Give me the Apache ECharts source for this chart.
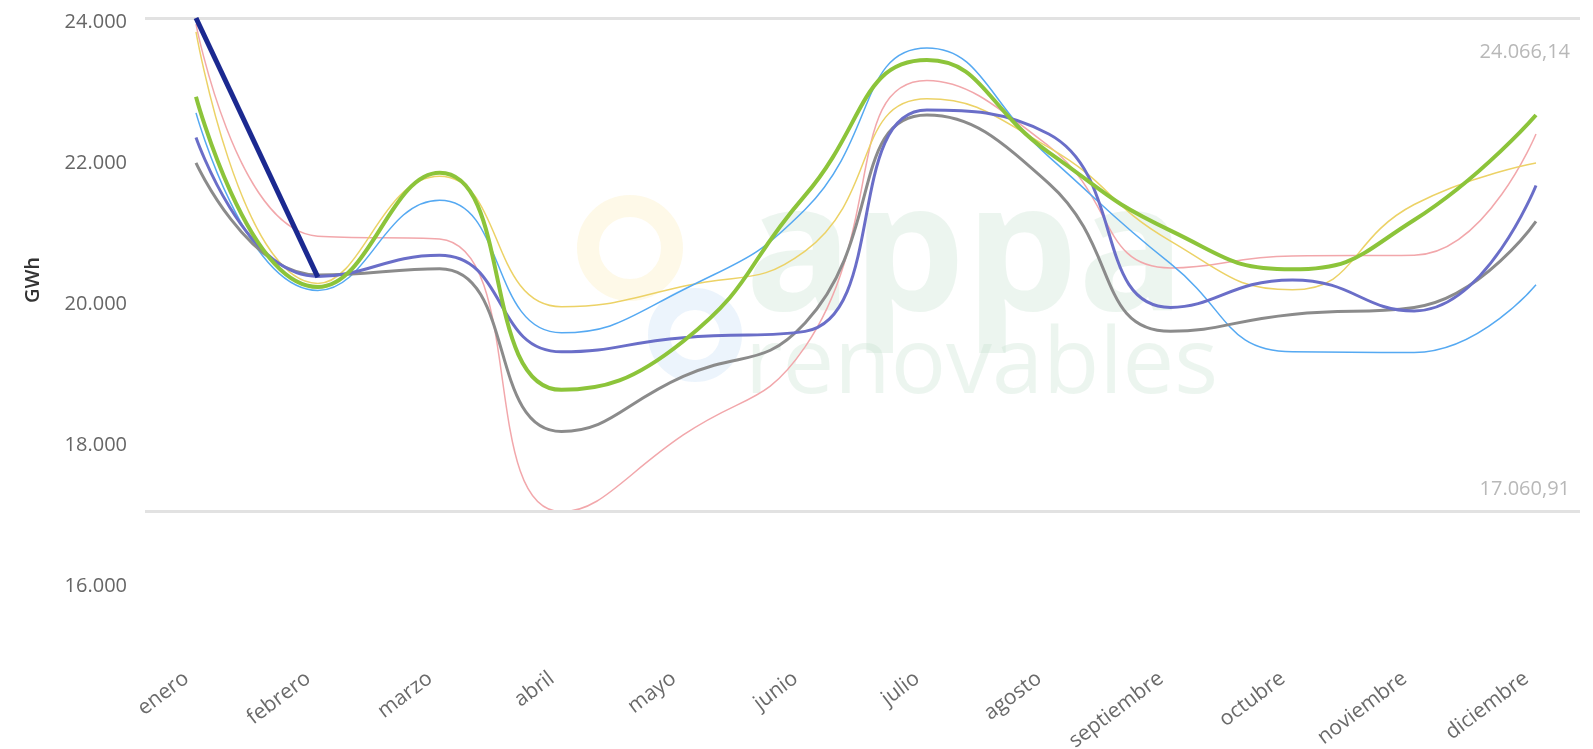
<!DOCTYPE html>
<html>
<head>
<meta charset="utf-8">
<script src="https://cdn.jsdelivr.net/npm/echarts@6/dist/echarts.min.js"></script>
<style>
html,body{margin:0;padding:0;background:#fff;}
#chart{width:1593px;height:749px;}
</style>
</head>
<body>
<div id="chart"></div>
<script>
const months = ['enero','febrero','marzo','abril','mayo','junio','julio','agosto','septiembre','octubre','noviembre','diciembre'];
const yTicks = [16000, 18000, 20000, 22000, 24000];
const pink      = [23980, 20970, 20930, 17060.91, 18150, 19400, 23180, 22250, 20520, 20690, 20700, 22420];
const yellow    = [23870, 20300, 21820, 19970, 20260, 20760, 22920, 22230, 20900, 20210, 21420, 22010];
const lightBlue = [22720, 20200, 21480, 19600, 20210, 21350, 23640, 22100, 20580, 19330, 19320, 20280];
const gray      = [22010, 20420, 20510, 18200, 18980, 19740, 22690, 21720, 19620, 19860, 19960, 21180];
const purple    = [22370, 20400, 20700, 19330, 19530, 19620, 22760, 22420, 19960, 20350, 19910, 21690];
const green     = [22950, 20250, 21870, 18790, 19480, 21550, 23470, 22160, 21050, 20500, 21200, 22690];
const navy      = [24066.14, 20390];

const allVals = [].concat(pink, yellow, lightBlue, gray, purple, green, navy);
const maxVal = Math.max.apply(null, allVals);
const minVal = Math.min.apply(null, allVals);

function fmtEs(v, dec) {
  const parts = v.toFixed(dec).split('.');
  const int = parts[0].replace(/\B(?=(\d{3})+(?!\d))/g, '.');
  return dec ? int + ',' + parts[1] : int;
}

const FONT = '"Open Sans", "Noto Sans", sans-serif';
const Y_MIN = 15000;
const GRID_TOP = 18, GRID_BOTTOM = 92;

function lineSeries(name, data, color, width, z) {
  return {
    name: name, type: 'line', data: data, smooth: true, showSymbol: false, symbol: 'none',
    clip: false, z: z,
    lineStyle: { color: color, width: width },
    emphasis: { disabled: true }
  };
}

const refLabel = { color: '#b8b8b8', fontSize: 20, fontFamily: FONT,
  formatter: function (p) { return fmtEs(p.value, 2); } };

const chart = echarts.init(document.getElementById('chart'), null, { renderer: 'canvas' });
chart.setOption({
  animation: false,
  backgroundColor: '#ffffff',
  grid: [
    { left: 196, right: 57, top: GRID_TOP, bottom: GRID_BOTTOM, containLabel: false, outerBoundsMode: 'none' },
    { left: 145, right: 13, top: GRID_TOP, bottom: GRID_BOTTOM, containLabel: false, outerBoundsMode: 'none' }
  ],
  graphic: [
    { type: 'circle', shape: { cx: 630, cy: 248, r: 42 }, style: { fill: 'none', stroke: 'rgba(250,225,140,0.2)', lineWidth: 22 }, z: -10, silent: true },
    { type: 'circle', shape: { cx: 695, cy: 335, r: 36 }, style: { fill: 'none', stroke: 'rgba(160,200,240,0.2)', lineWidth: 22 }, z: -10, silent: true },
    { type: 'text', left: 745, top: 170, z: -10, silent: true,
      style: { text: 'appa', font: 'bold 178px ' + FONT, fill: 'rgba(200,226,208,0.34)' } },
    { type: 'text', left: 745, top: 321, z: -10, silent: true,
      style: { text: 'renovables', font: '92px ' + FONT, fill: 'rgba(200,226,208,0.34)' } },
    { type: 'text', x: 33, y: 280, rotation: Math.PI / 2, silent: true,
      style: { text: 'GWh', font: '600 20px ' + FONT, fill: '#333333', textAlign: 'center', textVerticalAlign: 'middle' } }
  ],
  xAxis: [
    {
      type: 'category', gridIndex: 0, data: months, boundaryGap: false,
      axisLine: { show: false }, axisTick: { show: false }, splitLine: { show: false },
      axisLabel: { rotate: 37, interval: 0, margin: 12, padding: [0, 12, 0, 0], color: '#6a6a6a', fontSize: 21, fontFamily: FONT }
    },
    { type: 'value', gridIndex: 1, min: 0, max: 1, show: false }
  ],
  yAxis: [
    {
      type: 'value', gridIndex: 0, min: Y_MIN, max: maxVal, interval: 1000,
      axisLine: { show: false }, axisTick: { show: false }, splitLine: { show: false },
      axisLabel: {
        margin: 69, color: '#666666', fontSize: 20, fontFamily: FONT,
        formatter: function (v) { return yTicks.indexOf(v) >= 0 ? fmtEs(v, 0) : ''; }
      }
    },
    { type: 'value', gridIndex: 1, min: Y_MIN, max: maxVal, show: false }
  ],
  series: [
    {
      type: 'line', xAxisIndex: 1, yAxisIndex: 1, z: 1, symbol: 'none',
      data: [[0, minVal], [1, maxVal]], lineStyle: { opacity: 0 },
      emphasis: { disabled: true },
      markLine: {
        silent: true, symbol: ['none', 'none'], animation: false,
        lineStyle: { color: '#e2e2e2', width: 3, type: 'solid' },
        data: [
          { yAxis: maxVal, label: Object.assign({ position: 'insideEndBottom', distance: [10, 24] }, refLabel) },
          { yAxis: minVal, label: Object.assign({ position: 'insideEndTop', distance: [10, 12] }, refLabel) }
        ]
      }
    },
    lineSeries('serie 1', pink, '#f2a7ab', 1.5, 3),
    lineSeries('serie 2', yellow, '#ecd266', 1.5, 4),
    lineSeries('serie 3', lightBlue, '#55a9f2', 1.5, 5),
    lineSeries('serie 4', gray, '#8b8b8b', 3, 6),
    lineSeries('serie 5', purple, '#6a6ec8', 3, 7),
    lineSeries('serie 6', green, '#8cc43a', 4, 8),
    lineSeries('serie 7', navy, '#1b2990', 5, 9)
  ]
});
</script>
</body>
</html>
